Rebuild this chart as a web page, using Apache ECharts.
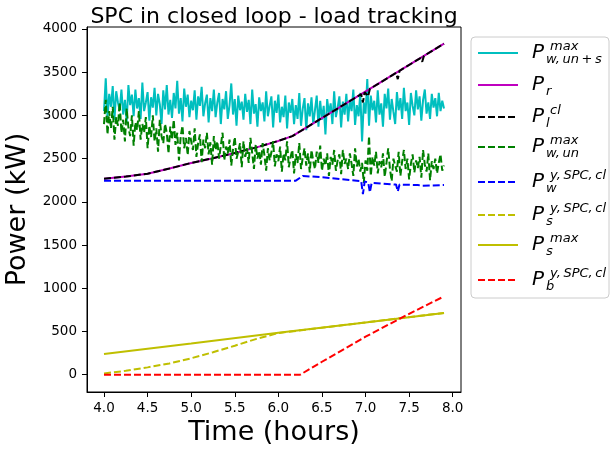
<!DOCTYPE html>
<html>
<head>
<meta charset="utf-8">
<script src="https://cdn.jsdelivr.net/npm/echarts@6/dist/echarts.min.js"></script>
<style>
  html, body { margin: 0; padding: 0; background: #fff; }
  #chart { width: 611px; height: 451px; }
</style>
</head>
<body>
<div id="chart"></div>
<script>
// sampled series: t = 4.0 + i*0.02 (4.0 .. 7.9)
var t0 = 4.0, dt = 0.02;

var wMaxUnS = [
  3050, 3430, 2980, 3250, 3100, 3340, 2950, 3280, 3150, 3060,
  3300, 3010, 3180, 2920, 3350, 3120, 3240, 2990, 3300, 3080,
  3200, 2960, 3380, 3050, 3150, 3270, 2940, 3210, 3090, 3320,
  3000, 3250, 3130, 2900, 3290, 3070, 3350, 3010, 3180, 2970,
  3260, 3080, 3400, 3020, 3200, 2930, 3310, 3100, 3240, 2980,
  3170, 3060, 3290, 2950, 3220, 3110, 3330, 2990, 3140, 3240,
  2920, 3200, 3050, 3300, 2980, 3150, 3260, 2900, 3190, 3070,
  3280, 2960, 3120, 3370, 3010, 3190, 2880, 3230, 3060, 3160,
  2950, 3250, 3040, 3180, 2900, 3300, 3020, 3130, 2870, 3210,
  3050, 3150, 2930, 3280, 2990, 3110, 3220, 2860, 3170, 3030,
  3240, 2920, 3100, 2980, 3230, 2850, 3150, 3030, 3190, 2900,
  3120, 2960, 3260, 2880, 3080, 3200, 2830, 3140, 2990, 3210,
  2900, 3060, 3230, 2870, 3170, 2950, 3110, 2780, 3190, 3020,
  3140, 2900, 3280, 2980, 3090, 3220, 2860, 3160, 3010, 3250,
  2930, 3180, 3050, 3300, 2890, 3120, 2990, 3260, 2700, 3150,
  3020, 3420, 2880, 3230, 3060, 3170, 2920, 3290, 3010, 3140,
  2870, 3250, 3080, 3310, 2950, 3190, 3040, 2900, 3270, 3060,
  3200, 2960, 3320, 3050, 3150, 2890, 3260, 3110, 3000, 3290,
  3070, 3220, 2940, 3180, 3300, 3020, 3150, 2960, 3250, 3090,
  3200, 2990, 3260, 3050, 3170, 3080
];

var wMaxUn = [
  2900, 3180, 2780, 3050, 2850, 3100, 2720, 2980, 2880, 3150,
  2800, 2950, 2700, 3080, 2860, 2760, 3000, 2650, 2920, 2830,
  3050, 2720, 2900, 2800, 2980, 2620, 2880, 2750, 3000, 2700,
  2850, 2580, 2950, 2760, 2680, 2900, 2800, 2560, 2870, 2720,
  2950, 2660, 2800, 2480, 2760, 2880, 2620, 2740, 2540, 2820,
  2700, 2600, 2850, 2520, 2680, 2780, 2460, 2720, 2620, 2800,
  2550, 2690, 2430, 2760, 2600, 2700, 2500, 2650, 2800, 2480,
  2640, 2560, 2720, 2420, 2610, 2750, 2500, 2580, 2680, 2400,
  2700, 2520, 2620, 2450, 2740, 2560, 2380, 2660, 2500, 2590,
  2430, 2680, 2540, 2360, 2620, 2480, 2570, 2700, 2410, 2550,
  2470, 2640, 2350, 2560, 2480, 2700, 2400, 2520, 2600, 2330,
  2550, 2450, 2680, 2380, 2510, 2620, 2420, 2560, 2340, 2600,
  2470, 2380, 2580, 2450, 2650, 2360, 2500, 2420, 2560, 2300,
  2520, 2430, 2600, 2360, 2480, 2550, 2320, 2600, 2440, 2500,
  2380, 2560, 2440, 2300, 2620, 2410, 2500, 2350, 2450, 2220,
  2480, 2360, 2760, 2300, 2520, 2420, 2580, 2330, 2470, 2400,
  2560, 2290, 2450, 2620, 2380, 2240, 2500, 2420, 2350, 2580,
  2300, 2470, 2600, 2380, 2500, 2260, 2440, 2550, 2340, 2480,
  2390, 2520, 2280, 2600, 2430, 2350, 2560, 2250, 2470, 2380,
  2500, 2330, 2450, 2550, 2360, 2420
];

// reference power
var prTime = [4.0, 4.25, 4.5, 4.75, 5.0, 5.25, 5.5, 5.75, 6.0, 6.16, 7.9];
var prVals = [2268, 2292, 2326, 2385, 2450, 2505, 2566, 2630, 2705, 2760, 3831];

// load in closed loop
var plTime = [4.0, 4.25, 4.5, 4.75, 5.0, 5.25, 5.5, 5.75, 6.0, 6.16, 6.95, 6.97, 6.99, 7.01, 7.03, 7.05, 7.35, 7.37, 7.39, 7.63, 7.65, 7.67, 7.9];
var plVals = [2268, 2292, 2326, 2385, 2450, 2505, 2566, 2630, 2705, 2760, 3246, 3150, 3270, 3283, 3220, 3307, 3492, 3420, 3516, 3664, 3620, 3689, 3831];

// wind setpoint
var pwTime = [4.0, 6.2, 6.28, 6.5, 6.9, 6.95, 6.97, 6.99, 7.03, 7.05, 7.07, 7.35, 7.37, 7.39, 7.6, 7.65, 7.9];
var pwVals = [2245, 2245, 2300, 2285, 2245, 2240, 2090, 2235, 2225, 2110, 2220, 2200, 2120, 2200, 2195, 2185, 2195];

// solar setpoint and max
var psTime = [4.0, 4.25, 4.5, 4.75, 5.0, 5.25, 5.5, 5.75, 6.0, 7.0, 7.9];
var psVals = [15, 45, 85, 130, 190, 260, 335, 415, 482, 605, 715];
var psMaxTime = [4.0, 5.0, 6.0, 7.0, 7.9];
var psMaxVals = [240, 360, 485, 605, 715];

// battery setpoint
var pbTime = [4.0, 6.25, 6.5, 7.0, 7.5, 7.9];
var pbVals = [0, 0, 150, 440, 705, 906];

var xTicks = [4.0, 4.5, 5.0, 5.5, 6.0, 6.5, 7.0, 7.5, 8.0];
var yTicks = [0, 500, 1000, 1500, 2000, 2500, 3000, 3500, 4000];

// legend rows: [series name, sup, sub]
var TS = '\u2009';
var legendRows = [
  ['wmaxuns', 'max', 'w,' + TS + 'un' + TS + '+' + TS + 's'],
  ['pr', '', 'r'],
  ['plcl', 'cl', 'l'],
  ['wmaxun', 'max', 'w,' + TS + 'un'],
  ['pw', 'y,' + TS + 'SPC,' + TS + 'cl', 'w'],
  ['ps', 'y,' + TS + 'SPC,' + TS + 'cl', 's'],
  ['psmax', 'max', 's'],
  ['pb', 'y,' + TS + 'SPC,' + TS + 'cl', 'b']
];
var legendY = [53, 85, 117, 147, 182, 215, 245, 280];

function sampled(vals) {
  return vals.map(function (v, i) { return [+(t0 + i * dt).toFixed(2), v]; });
}
function pairs(ts, vs) {
  return ts.map(function (t, i) { return [t, vs[i]]; });
}

var DASH = [7, 3];
function lineSeries(name, data, color, dashed) {
  return {
    name: name,
    type: 'line',
    data: data,
    symbol: 'none',
    silent: true,
    lineStyle: { color: color, width: 2, type: dashed ? DASH : 'solid' },
    itemStyle: { color: color }
  };
}

var series = [
  lineSeries('wmaxuns', sampled(wMaxUnS), '#00bfbf', false),
  lineSeries('pr', pairs(prTime, prVals), '#bf00bf', false),
  lineSeries('plcl', pairs(plTime, plVals), '#000000', true),
  lineSeries('wmaxun', sampled(wMaxUn), '#008000', true),
  lineSeries('pw', pairs(pwTime, pwVals), '#0000ff', true),
  lineSeries('ps', pairs(psTime, psVals), '#bfbf00', true),
  lineSeries('psmax', pairs(psMaxTime, psMaxVals), '#bfbf00', false),
  lineSeries('pb', pairs(pbTime, pbVals), '#ff0000', true)
];

var legends = legendRows.map(function (r, i) {
  return {
    left: 477,
    top: legendY[i] - 7,
    padding: 0,
    itemWidth: 40,
    itemHeight: 14,
    z: 10,
    selectedMode: false,
    itemStyle: { opacity: 0 },
    data: [r[0]],
    formatter: function () { return ''; }
  };
});

var mathFont = 'italic 20px "DejaVu Sans"';
var scriptFont = 'italic 13px "DejaVu Sans"';
var labels = [{
  type: 'rect',
  shape: { x: 471, y: 37, width: 138, height: 261, r: 4 },
  style: { fill: 'rgba(255,255,255,0.8)', stroke: '#cccccc', lineWidth: 1 },
  z: 1
}];
legendRows.forEach(function (r, i) {
  var y = legendY[i];
  labels.push({ type: 'text', x: 532, y: y, z: 60,
    style: { text: 'P', font: mathFont, fill: '#000', verticalAlign: 'middle' } });
  if (r[1]) labels.push({ type: 'text', x: 550, y: y - 6, z: 60,
    style: { text: r[1], font: scriptFont, fill: '#000', verticalAlign: 'middle' } });
  if (r[2]) labels.push({ type: 'text', x: 546, y: y + 7, z: 60,
    style: { text: r[2], font: scriptFont, fill: '#000', verticalAlign: 'middle' } });
});

var chart = echarts.init(document.getElementById('chart'), null, { renderer: 'canvas' });
chart.setOption({
  animation: false,
  backgroundColor: '#fff',
  textStyle: { fontFamily: 'DejaVu Sans', color: '#000' },
  title: {
    text: 'SPC in closed loop - load tracking',
    left: 269,
    top: 1,
    textAlign: 'center',
    textStyle: { fontFamily: 'DejaVu Sans', fontSize: 22, fontWeight: 'normal', color: '#000' }
  },
  legend: legends,
  grid: {
    left: 87, top: 27, width: 374, height: 365,
    outerBoundsMode: 'none',
    containLabel: false,
    show: true, borderColor: '#000', borderWidth: 1, backgroundColor: 'transparent'
  },
  xAxis: {
    type: 'value',
    min: 3.805,
    max: 8.095,
    name: 'Time (hours)',
    nameLocation: 'middle',
    nameGap: 27,
    nameTextStyle: { fontFamily: 'DejaVu Sans', fontSize: 27, color: '#000' },
    axisLine: { show: true, onZero: false, lineStyle: { color: '#000', width: 1 } },
    axisTick: { show: true, length: 5, customValues: xTicks, lineStyle: { color: '#000' } },
    axisLabel: {
      customValues: xTicks,
      margin: 9,
      fontFamily: 'DejaVu Sans', fontSize: 13.5, color: '#000',
      formatter: function (v) { return v.toFixed(1); }
    },
    splitLine: { show: false }
  },
  yAxis: {
    type: 'value',
    min: -200,
    max: 4023,
    name: 'Power (kW)',
    nameLocation: 'middle',
    nameGap: 52,
    nameTextStyle: { fontFamily: 'DejaVu Sans', fontSize: 27, color: '#000' },
    axisLine: { show: true, onZero: false, lineStyle: { color: '#000', width: 1 } },
    axisTick: { show: true, length: 5, customValues: yTicks, lineStyle: { color: '#000' } },
    axisLabel: {
      customValues: yTicks,
      margin: 10,
      fontFamily: 'DejaVu Sans', fontSize: 13.5, color: '#000',
      formatter: function (v) { return String(v); }
    },
    splitLine: { show: false }
  },
  graphic: labels,
  series: series
});
</script>
</body>
</html>
